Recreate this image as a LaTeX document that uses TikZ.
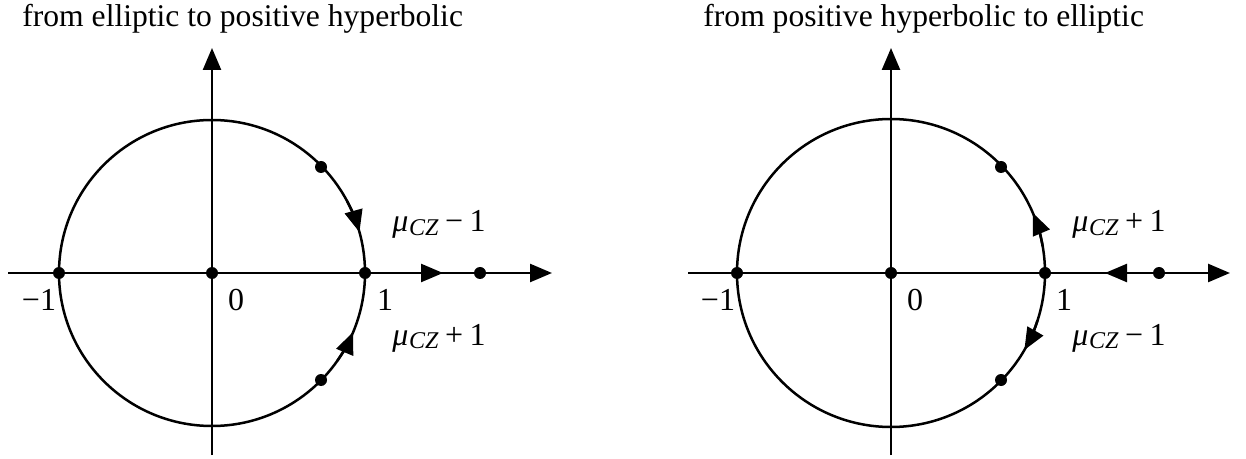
\documentclass[tikz,border=0pt]{standalone}
\usepackage{fontspec}
\setmainfont{Liberation Serif}
\usetikzlibrary{arrows.meta}
\newcommand{\muCZ}{\textit{μ}\kern0.02em\raisebox{-0.25ex}{\fontsize{12}{14}\selectfont\textit{CZ}}}
\begin{document}
\begin{tikzpicture}[x=0.5pt,y=-0.5pt,
  axis/.style={line width=1.25pt,-{Triangle[length=11pt,width=9pt]}},
  curve/.style={line width=1.25pt},
  tipmark/.style={line width=1.25pt,-{Triangle[length=11pt,width=9pt]}},
  dot/.style={circle,fill,inner sep=0pt,minimum size=6pt},
  lab/.style={font=\fontsize{16}{19}\selectfont,inner sep=0pt},
  title/.style={font=\fontsize{15.8}{19}\selectfont,inner sep=0pt,anchor=base west}]
\useasboundingbox (0,0) rectangle (1246,459);

% ---------- left diagram ----------
\coordinate (L) at (212,273);
\node[title] (t1) at (22,27) {from elliptic to positive hyperbolic};
\draw[axis] (212,455) -- (212,48);
\draw[axis] (8,273) -- (552,273);
\draw[curve] (L) circle (153);
\draw[tipmark] (L) ++(-28:153) arc (-28:-15.5:153);
\draw[tipmark] (L) ++(35:153) arc (35:22.7:153);
\draw[tipmark] (405,273) -- (443,273);
\node[dot] (lm1) at (59,273) {};
\node[dot] (l0) at (212,273) {};
\node[dot] (l1) at (365,273) {};
\node[dot] (lp) at (480,273) {};
\node[dot] (lu) at (321,167) {};
\node[dot] (ld) at (321,380) {};
\node[lab] (lm1t) at (39,300) {−1};
\node[lab] (l0t) at (236,300) {0};
\node[lab] (l1t) at (385,300) {1};
\node[lab,anchor=base west] (lmu1) at (392,232) {\muCZ\hspace{0.2em}−\hspace{0.2em}1};
\node[lab,anchor=base west] (lmu2) at (392,345) {\muCZ\hspace{0.2em}+\hspace{0.2em}1};

% ---------- right diagram ----------
\coordinate (R) at (891,273);
\node[title] (t2) at (703,27) {from positive hyperbolic to elliptic};
\draw[axis] (891,455) -- (891,48);
\draw[axis] (688,273) -- (1230,273);
\draw[curve] (R) circle (154);
\draw[tipmark] (R) ++(-10:154) arc (-10:-23:154);
\draw[tipmark] (R) ++(18:154) arc (18:30:154);
\draw[tipmark] (1140,273) -- (1105,273);
\node[dot] (rm1) at (737,273) {};
\node[dot] (r0) at (891,273) {};
\node[dot] (r1) at (1045,273) {};
\node[dot] (rp) at (1159,273) {};
\node[dot] (ru) at (1001,167) {};
\node[dot] (rd) at (1001,380) {};
\node[lab] (rm1t) at (718,300) {−1};
\node[lab] (r0t) at (915,300) {0};
\node[lab] (r1t) at (1064,300) {1};
\node[lab,anchor=base west] (rmu1) at (1072,232) {\muCZ\hspace{0.2em}+\hspace{0.2em}1};
\node[lab,anchor=base west] (rmu2) at (1072,345) {\muCZ\hspace{0.2em}−\hspace{0.2em}1};
\end{tikzpicture}
\end{document}
